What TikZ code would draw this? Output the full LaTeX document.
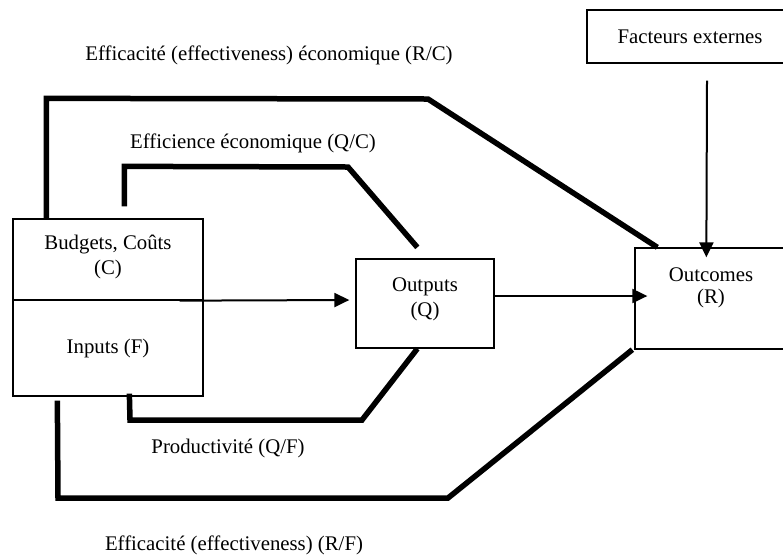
\documentclass[tikz,border=0pt]{standalone}
\usepackage{fontspec}
\setmainfont{Liberation Serif}
\usetikzlibrary{arrows.meta}
\begin{document}
\begin{tikzpicture}[x=1pt,y=-1pt,
  every node/.style={font=\fontsize{20.8}{25}\selectfont, inner sep=0pt},
  box/.style={draw, line width=1.3pt, rectangle, align=center},
  lbl/.style={},
  thickline/.style={line width=5.5pt},
  arr/.style={line width=2pt, -{Triangle[length=15pt,width=14pt]}}]
\useasboundingbox (0,0) rectangle (783,558);
% boxes
\node[box, minimum width=190pt, minimum height=81pt, text depth=10pt] (budget) at (108,259.5) {Budgets, Coûts\\(C)};
\node[box, minimum width=190pt, minimum height=96pt] (inputs) at (108,348) {Inputs (F)};
\node[box, minimum width=138pt, minimum height=89pt, text depth=13pt] (outputs) at (425,303.5) {Outputs\\(Q)};
\node[box, minimum width=152pt, minimum height=101pt, text depth=26pt] (outcomes) at (711,298.5) {Outcomes\\[-3pt](R)};
\node[box, minimum width=206pt, minimum height=53pt] (facteurs) at (690,36.5) {Facteurs externes};
% labels
\node[lbl] (lrc) at (269,55) {Efficacité (effectiveness) économique (R/C)};
\node[lbl] (lqc) at (253,143) {Efficience économique (Q/C)};
\node[lbl] (lqf) at (228,448) {Productivité (Q/F)};
\node[lbl] (lrf) at (234,545) {Efficacité (effectiveness) (R/F)};
% thick links
\draw[thickline] ([xshift=34pt]budget.north west) -- ++(0,-120) -- (428,99) -- ([xshift=23pt]outcomes.north west);
\draw[thickline] ([xshift=112pt,yshift=12pt]budget.north west) -- ++(0,-40) -- (348,167) -- ([xshift=62pt,yshift=11pt]outputs.north west);
\draw[thickline] ([xshift=117pt,yshift=3pt]inputs.south west) -- (130,420) -- (362,420) -- ([xshift=62pt]outputs.south west);
\draw[thickline] ([xshift=45pt,yshift=-4pt]inputs.south west) -- (58,498) -- (448,498) -- ([xshift=-2pt]outcomes.south west);
% arrows
\draw[arr] ([xshift=-24pt]budget.south east) -- ([xshift=-6pt,yshift=3.5pt]outputs.west);
\draw[arr] ([yshift=7.5pt]outputs.east) -- ([xshift=13pt,yshift=2.5pt]outcomes.west);
\draw[arr] ([xshift=17pt,yshift=-17pt]facteurs.south) -- ([xshift=72pt,yshift=-10pt]outcomes.north west);
\end{tikzpicture}
\end{document}
